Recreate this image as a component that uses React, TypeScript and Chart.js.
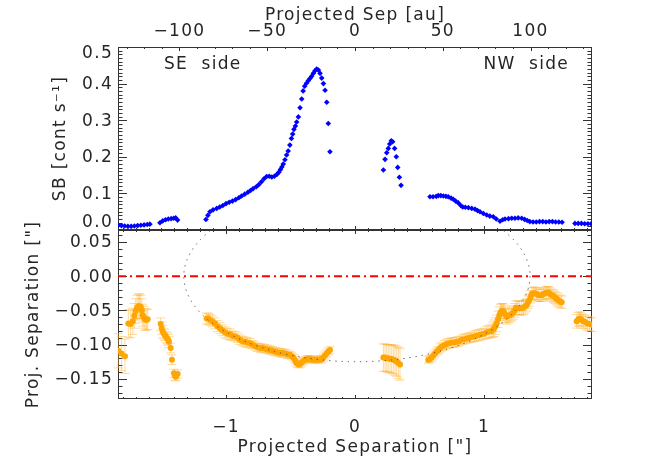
import React, { useEffect, useRef } from "react";
import { Chart, registerables } from "chart.js";

Chart.register(...registerables);

// ---------- data ----------
const X_MIN = -1.837;
const X_MAX = 1.837;
const AU_PER_ARCSEC = 73.5;
const ARCSEC_TICKS = [-1, 0, 1];
const AU_TICKS = [-100, -50, 0, 50, 100];
const SB_MIN = 0;
const SB_MAX = 0.5;
const SB_TICKS = [0, 0.1, 0.2, 0.3, 0.4, 0.5];
const SEP_MIN = -0.1795;
const SEP_MAX = 0.0675;
const SEP_TICKS = [-0.15, -0.1, -0.05, 0, 0.05];
const REFERENCE_LEVEL = 0;
const ELLIPSE_CENTER = [0.015, 0];
const ELLIPSE_SEMI_AXES = [1.342, 0.125];
const PANEL_LABELS = ["SE  side", "NW  side"];
const TITLES = {
  top: "Projected Sep [au]",
  bottom: 'Projected Separation ["]',
  sb: "SB [cont s\u207B\u00B9]",
  sep: 'Proj. Separation ["]',
};

// surface brightness profile [arcsec, cont/s]
const SB_POINTS: [number, number][] = [
  [-1.835, 0.013], [-1.81, 0.012], [-1.785, 0.011], [-1.76, 0.01], [-1.735, 0.01], [-1.71, 0.011],
  [-1.685, 0.012], [-1.66, 0.013], [-1.635, 0.014], [-1.61, 0.015], [-1.59, 0.016],
  [-1.512, 0.02], [-1.49, 0.025], [-1.468, 0.028], [-1.447, 0.03], [-1.425, 0.031], [-1.405, 0.032],
  [-1.39, 0.033], [-1.375, 0.027],
  [-1.155, 0.029], [-1.14, 0.04], [-1.124, 0.05], [-1.1, 0.055], [-1.072, 0.059], [-1.048, 0.063],
  [-1.024, 0.067], [-1.0, 0.072], [-0.975, 0.076], [-0.95, 0.079], [-0.925, 0.083], [-0.9, 0.088],
  [-0.879, 0.093], [-0.855, 0.098], [-0.83, 0.103], [-0.81, 0.108], [-0.79, 0.113], [-0.765, 0.118],
  [-0.745, 0.124], [-0.725, 0.132], [-0.705, 0.14], [-0.685, 0.146], [-0.665, 0.147], [-0.645, 0.145],
  [-0.625, 0.147], [-0.605, 0.152], [-0.59, 0.158], [-0.578, 0.165], [-0.567, 0.172], [-0.556, 0.18],
  [-0.543, 0.192], [-0.53, 0.205], [-0.518, 0.216], [-0.505, 0.232], [-0.493, 0.25], [-0.483, 0.262],
  [-0.473, 0.275], [-0.462, 0.284], [-0.452, 0.295], [-0.439, 0.309], [-0.426, 0.334], [-0.413, 0.358],
  [-0.402, 0.38], [-0.39, 0.393], [-0.376, 0.401], [-0.362, 0.408], [-0.349, 0.414], [-0.336, 0.42],
  [-0.323, 0.428], [-0.31, 0.435], [-0.297, 0.44], [-0.284, 0.437], [-0.271, 0.428], [-0.258, 0.415],
  [-0.245, 0.4], [-0.232, 0.382], [-0.219, 0.349], [-0.207, 0.291], [-0.194, 0.214],
  [0.22, 0.164], [0.233, 0.193], [0.246, 0.211], [0.258, 0.223], [0.269, 0.235], [0.281, 0.244],
  [0.292, 0.241], [0.307, 0.223], [0.32, 0.2], [0.331, 0.171], [0.344, 0.144], [0.357, 0.122],
  [0.581, 0.091], [0.605, 0.091], [0.63, 0.092], [0.646, 0.094], [0.665, 0.094], [0.685, 0.093],
  [0.705, 0.092], [0.723, 0.091], [0.745, 0.087], [0.762, 0.084], [0.78, 0.079], [0.801, 0.074],
  [0.82, 0.067], [0.835, 0.063], [0.855, 0.062], [0.879, 0.061], [0.905, 0.059], [0.93, 0.057],
  [0.95, 0.053], [0.969, 0.05], [0.995, 0.045], [1.021, 0.041], [1.045, 0.038], [1.072, 0.036],
  [1.095, 0.03], [1.124, 0.024], [1.145, 0.028], [1.163, 0.03], [1.19, 0.031], [1.215, 0.032],
  [1.24, 0.032], [1.265, 0.033], [1.292, 0.032], [1.315, 0.029], [1.335, 0.026], [1.355, 0.023],
  [1.38, 0.022], [1.405, 0.022], [1.43, 0.023], [1.455, 0.023], [1.48, 0.022], [1.505, 0.023],
  [1.53, 0.023], [1.555, 0.022], [1.58, 0.022], [1.605, 0.021],
  [1.705, 0.018], [1.73, 0.018], [1.755, 0.018], [1.78, 0.017], [1.805, 0.017], [1.83, 0.017],
];

// spine offset [arcsec, arcsec, error]
const SEP_POINTS: [number, number, number][] = [
  [-1.835, -0.109, 0.025], [-1.81, -0.113, 0.025], [-1.783, -0.117, 0.025], [-1.757, -0.069, 0.02],
  [-1.739, -0.07, 0.02], [-1.723, -0.066, 0.019], [-1.711, -0.058, 0.018], [-1.7, -0.051, 0.018],
  [-1.689, -0.046, 0.018], [-1.679, -0.044, 0.018], [-1.67, -0.044, 0.018], [-1.661, -0.045, 0.017],
  [-1.652, -0.05, 0.017], [-1.646, -0.057, 0.016], [-1.637, -0.06, 0.016], [-1.628, -0.063, 0.016],
  [-1.617, -0.064, 0.015], [-1.607, -0.063, 0.015],
  [-1.506, -0.07, 0.009], [-1.498, -0.076, 0.009], [-1.491, -0.081, 0.009], [-1.482, -0.084, 0.008],
  [-1.473, -0.086, 0.008], [-1.464, -0.089, 0.008], [-1.455, -0.091, 0.008], [-1.448, -0.093, 0.008],
  [-1.442, -0.096, 0.008], [-1.429, -0.105, 0.007], [-1.419, -0.122, 0.007], [-1.403, -0.142, 0.006],
  [-1.395, -0.146, 0.006], [-1.388, -0.147, 0.006], [-1.375, -0.143, 0.006],
  [-1.15, -0.062, 0.008], [-1.137, -0.062, 0.008], [-1.124, -0.064, 0.008], [-1.105, -0.066, 0.008],
  [-1.085, -0.069, 0.008], [-1.066, -0.073, 0.008], [-1.047, -0.076, 0.008], [-1.028, -0.079, 0.008],
  [-1.008, -0.082, 0.008], [-0.989, -0.084, 0.008], [-0.969, -0.085, 0.008], [-0.95, -0.087, 0.007],
  [-0.93, -0.088, 0.007], [-0.91, -0.09, 0.007], [-0.891, -0.093, 0.007], [-0.872, -0.095, 0.007],
  [-0.853, -0.096, 0.007], [-0.834, -0.097, 0.007], [-0.814, -0.098, 0.007], [-0.795, -0.1, 0.006],
  [-0.775, -0.102, 0.006], [-0.756, -0.104, 0.006], [-0.736, -0.105, 0.006], [-0.717, -0.105, 0.006],
  [-0.698, -0.106, 0.006], [-0.678, -0.107, 0.006], [-0.659, -0.108, 0.006], [-0.64, -0.109, 0.006],
  [-0.62, -0.11, 0.006], [-0.601, -0.111, 0.006], [-0.581, -0.112, 0.006], [-0.562, -0.112, 0.006],
  [-0.543, -0.113, 0.006], [-0.523, -0.114, 0.006], [-0.504, -0.115, 0.005], [-0.49, -0.117, 0.005],
  [-0.478, -0.119, 0.005], [-0.467, -0.122, 0.005], [-0.457, -0.126, 0.005], [-0.445, -0.128, 0.005],
  [-0.434, -0.129, 0.005], [-0.423, -0.128, 0.005], [-0.413, -0.126, 0.005], [-0.4, -0.124, 0.005],
  [-0.388, -0.122, 0.005], [-0.368, -0.121, 0.005], [-0.349, -0.121, 0.005], [-0.33, -0.122, 0.005],
  [-0.31, -0.122, 0.005], [-0.29, -0.122, 0.005], [-0.271, -0.122, 0.005], [-0.258, -0.121, 0.005],
  [-0.245, -0.119, 0.005], [-0.233, -0.116, 0.005], [-0.22, -0.113, 0.005], [-0.207, -0.11, 0.005],
  [-0.194, -0.108, 0.005],
  [0.22, -0.119, 0.02], [0.233, -0.119, 0.02], [0.246, -0.12, 0.02], [0.258, -0.12, 0.02],
  [0.271, -0.121, 0.02], [0.284, -0.121, 0.021], [0.297, -0.122, 0.021], [0.31, -0.123, 0.022],
  [0.323, -0.125, 0.022], [0.336, -0.127, 0.023], [0.349, -0.129, 0.023],
  [0.568, -0.122, 0.005], [0.581, -0.121, 0.005], [0.594, -0.119, 0.005], [0.607, -0.116, 0.005],
  [0.62, -0.113, 0.005], [0.633, -0.11, 0.005], [0.646, -0.108, 0.005], [0.659, -0.105, 0.006],
  [0.672, -0.103, 0.006], [0.691, -0.101, 0.007], [0.711, -0.099, 0.007], [0.73, -0.098, 0.007],
  [0.749, -0.097, 0.007], [0.768, -0.097, 0.007], [0.788, -0.096, 0.007], [0.807, -0.095, 0.007],
  [0.827, -0.093, 0.007], [0.846, -0.092, 0.007], [0.866, -0.091, 0.007], [0.885, -0.09, 0.007],
  [0.905, -0.089, 0.007], [0.924, -0.088, 0.008], [0.943, -0.087, 0.008], [0.963, -0.086, 0.008],
  [0.982, -0.085, 0.008], [1.001, -0.084, 0.008], [1.021, -0.082, 0.009], [1.04, -0.081, 0.009],
  [1.06, -0.08, 0.01], [1.07, -0.078, 0.011], [1.078, -0.076, 0.012], [1.088, -0.073, 0.012],
  [1.098, -0.069, 0.012], [1.108, -0.063, 0.012], [1.119, -0.057, 0.012], [1.128, -0.053, 0.012],
  [1.137, -0.051, 0.011], [1.146, -0.051, 0.011], [1.155, -0.053, 0.011], [1.165, -0.056, 0.011],
  [1.176, -0.059, 0.011], [1.189, -0.058, 0.01], [1.202, -0.057, 0.01], [1.215, -0.055, 0.01],
  [1.227, -0.053, 0.01], [1.238, -0.05, 0.01], [1.248, -0.046, 0.01], [1.261, -0.046, 0.01],
  [1.274, -0.047, 0.01], [1.29, -0.047, 0.01], [1.305, -0.046, 0.01], [1.318, -0.044, 0.01],
  [1.331, -0.042, 0.009], [1.341, -0.038, 0.009], [1.351, -0.035, 0.009], [1.361, -0.03, 0.009],
  [1.37, -0.026, 0.009], [1.383, -0.025, 0.009], [1.395, -0.025, 0.009], [1.408, -0.026, 0.009],
  [1.421, -0.028, 0.009], [1.434, -0.028, 0.009], [1.447, -0.028, 0.009], [1.46, -0.026, 0.009],
  [1.473, -0.025, 0.009], [1.486, -0.024, 0.009], [1.499, -0.024, 0.009], [1.512, -0.026, 0.009],
  [1.525, -0.028, 0.009], [1.538, -0.029, 0.009], [1.55, -0.031, 0.009], [1.563, -0.033, 0.009],
  [1.576, -0.035, 0.009], [1.589, -0.037, 0.009], [1.602, -0.038, 0.009],
  [1.718, -0.066, 0.01], [1.731, -0.063, 0.01], [1.744, -0.062, 0.01], [1.757, -0.064, 0.01],
  [1.77, -0.066, 0.01], [1.785, -0.067, 0.01], [1.801, -0.069, 0.01], [1.818, -0.07, 0.01],
  [1.835, -0.071, 0.01],
];

// ---------- layout & style ----------
const WIDTH = 658;
const HEIGHT = 470;
const PLOT_LEFT = 118;
const PLOT_RIGHT = 592;
const PLOT_TOP = 47;
const PANEL_SPLIT = 230;
const PLOT_BOTTOM = 399;
const FONT = { family: "DejaVu Sans", size: 17 };
const FONT_CSS = `${FONT.size}px "${FONT.family}"`;
const LETTER_SPACING = "1.3px";
const TEXT_COLOR = "#262626";
const AXIS_COLOR = "#333333";
const BLUE = "#0000ff";
const ORANGE = "#ffa500";
const ERR_COLOR = "rgba(255,170,30,0.45)";
const X_MAJOR_LEN = 4;
const X_MINOR_LEN = 2;
const Y_MAJOR_LEN = 9;
const Y_MINOR_LEN = 4.5;
const Y_LABEL_GAP = 5;
const Y_LABEL_HALF = 7;

const minus = (s: string) => s.replace("-", "\u2212");
const fmt = (v: number, d: number) => (Math.abs(v) < 1e-12 ? (0).toFixed(d) : minus(v.toFixed(d)));

const letterSpacingPlugin = {
  id: "letterSpacing",
  beforeDraw(chart: any) {
    chart.ctx.letterSpacing = LETTER_SPACING;
  },
};

function frameTicksPlugin(spec: { yMinor: number; yMajorEvery: number; topAu: boolean }) {
  return {
    id: "frameTicks",
    beforeDatasetsDraw(chart: any) {
      const { ctx, chartArea: a } = chart;
      const xs = chart.scales.x;
      const ys = chart.scales.y;
      ctx.save();
      ctx.strokeStyle = AXIS_COLOR;
      ctx.lineWidth = 1;
      ctx.beginPath();
      const xStep = 0.1;
      for (let i = Math.ceil(X_MIN / xStep - 1e-9); i <= Math.floor(X_MAX / xStep + 1e-9); i++) {
        const px = Math.round(xs.getPixelForValue(i * xStep)) + 0.5;
        const len = i % 10 === 0 ? X_MAJOR_LEN : X_MINOR_LEN;
        ctx.moveTo(px, a.bottom);
        ctx.lineTo(px, a.bottom - len);
        if (!spec.topAu) {
          ctx.moveTo(px, a.top);
          ctx.lineTo(px, a.top + len);
        }
      }
      if (spec.topAu) {
        const au = chart.scales.xAu;
        for (let i = Math.ceil(au.min / 10); i <= Math.floor(au.max / 10); i++) {
          const px = Math.round(au.getPixelForValue(i * 10)) + 0.5;
          const len = i % 5 === 0 ? X_MAJOR_LEN : X_MINOR_LEN;
          ctx.moveTo(px, a.top);
          ctx.lineTo(px, a.top + len);
        }
      }
      const n0 = Math.ceil(ys.min / spec.yMinor - 1e-6);
      const n1 = Math.floor(ys.max / spec.yMinor + 1e-6);
      for (let i = n0; i <= n1; i++) {
        const py = Math.round(ys.getPixelForValue(i * spec.yMinor)) + 0.5;
        const len = i % spec.yMajorEvery === 0 ? Y_MAJOR_LEN : Y_MINOR_LEN;
        ctx.moveTo(a.left, py);
        ctx.lineTo(a.left + len, py);
        ctx.moveTo(a.right, py);
        ctx.lineTo(a.right - len, py);
      }
      ctx.stroke();
      ctx.strokeRect(a.left + 0.5, a.top + 0.5, a.right - a.left - 1, a.bottom - a.top - 1);
      ctx.restore();
    },
  };
}

// y tick labels, kept inside the panel's vertical extent like the original plot
function yLabelPlugin(values: number[], decimals: number) {
  return {
    id: "yLabels",
    afterDraw(chart: any) {
      const { ctx, chartArea: a } = chart;
      const ys = chart.scales.y;
      ctx.save();
      ctx.font = FONT_CSS;
      ctx.fillStyle = TEXT_COLOR;
      ctx.textAlign = "right";
      ctx.textBaseline = "middle";
      for (const v of values) {
        let py = ys.getPixelForValue(v) + 1;
        py = Math.min(Math.max(py, a.top + Y_LABEL_HALF), a.bottom - Y_LABEL_HALF);
        ctx.fillText(fmt(v, decimals), a.left - Y_LABEL_GAP, py);
      }
      ctx.restore();
    },
  };
}

const panelLabelPlugin = {
  id: "panelLabels",
  afterDatasetsDraw(chart: any) {
    const { ctx, chartArea: a } = chart;
    ctx.save();
    ctx.font = FONT_CSS;
    ctx.fillStyle = TEXT_COLOR;
    ctx.textBaseline = "middle";
    ctx.textAlign = "left";
    ctx.fillText(PANEL_LABELS[0], a.left + 46, a.top + 18);
    ctx.textAlign = "right";
    ctx.fillText(PANEL_LABELS[1], a.right - 23, a.top + 18);
    ctx.restore();
  },
};

const errorBarPlugin = {
  id: "errorBars",
  beforeDatasetsDraw(chart: any) {
    const { ctx } = chart;
    const xs = chart.scales.x;
    const ys = chart.scales.y;
    ctx.save();
    ctx.strokeStyle = ERR_COLOR;
    ctx.lineWidth = 1;
    ctx.beginPath();
    for (const [x, y, e] of SEP_POINTS) {
      const px = xs.getPixelForValue(x);
      const y0 = ys.getPixelForValue(y - e);
      const y1 = ys.getPixelForValue(y + e);
      ctx.moveTo(px, y0);
      ctx.lineTo(px, y1);
      ctx.moveTo(px - 4.5, y0);
      ctx.lineTo(px + 4.5, y0);
      ctx.moveTo(px - 4.5, y1);
      ctx.lineTo(px + 4.5, y1);
    }
    ctx.stroke();
    ctx.restore();
  },
};

const ellipsePlugin = {
  id: "ellipse",
  afterDatasetsDraw(chart: any) {
    const { ctx, chartArea: a } = chart;
    const xs = chart.scales.x;
    const ys = chart.scales.y;
    const cx = xs.getPixelForValue(ELLIPSE_CENTER[0]);
    const cy = ys.getPixelForValue(ELLIPSE_CENTER[1]);
    const rx = Math.abs(xs.getPixelForValue(ELLIPSE_CENTER[0] + ELLIPSE_SEMI_AXES[0]) - cx);
    const ry = Math.abs(ys.getPixelForValue(ELLIPSE_CENTER[1] + ELLIPSE_SEMI_AXES[1]) - cy);
    ctx.save();
    ctx.beginPath();
    ctx.rect(a.left, a.top, a.right - a.left, a.bottom - a.top);
    ctx.clip();
    ctx.strokeStyle = "#444444";
    ctx.lineWidth = 1;
    ctx.setLineDash([1.2, 5]);
    ctx.beginPath();
    ctx.ellipse(cx, cy, rx, ry, 0, 0, Math.PI * 2);
    ctx.stroke();
    ctx.restore();
  },
};

const baseTicks = { font: FONT, color: TEXT_COLOR, autoSkip: false, maxRotation: 0 };

function topConfig(): any {
  return {
    type: "scatter",
    data: {
      datasets: [
        {
          data: SB_POINTS.map(([x, y]) => ({ x, y })),
          pointStyle: "rectRot",
          pointRadius: 2.8,
          backgroundColor: BLUE,
          borderWidth: 0,
          xAxisID: "x",
          yAxisID: "y",
        },
      ],
    },
    options: {
      responsive: false,
      animation: false,
      devicePixelRatio: 1,
      layout: { padding: { left: 0, top: 0, right: WIDTH - PLOT_RIGHT, bottom: HEIGHT - PANEL_SPLIT } },
      plugins: { legend: { display: false }, tooltip: { enabled: false } },
      scales: {
        x: { type: "linear", display: false, min: X_MIN, max: X_MAX },
        xAu: {
          type: "linear",
          position: "top",
          min: X_MIN * AU_PER_ARCSEC,
          max: X_MAX * AU_PER_ARCSEC,
          afterBuildTicks: (s: any) => {
            s.ticks = AU_TICKS.map((v) => ({ value: v }));
          },
          afterFit: (s: any) => {
            s.height = PLOT_TOP;
          },
          grid: { display: false, drawTicks: false },
          border: { display: false },
          ticks: { ...baseTicks, padding: 5, callback: (v: number) => fmt(v, 0) },
          title: { display: true, text: TITLES.top, font: FONT, color: TEXT_COLOR, padding: { top: 5, bottom: 0 } },
        },
        y: {
          type: "linear",
          position: "left",
          min: SB_MIN,
          max: SB_MAX,
          afterBuildTicks: (s: any) => {
            s.ticks = SB_TICKS.map((v) => ({ value: v }));
          },
          afterFit: (s: any) => {
            s.width = PLOT_LEFT;
          },
          grid: { display: false, drawTicks: false },
          border: { display: false },
          ticks: { ...baseTicks, display: false },
          title: { display: true, text: TITLES.sb, font: FONT, color: TEXT_COLOR, padding: { top: 50, bottom: 0 } },
        },
      },
    },
    plugins: [
      letterSpacingPlugin,
      frameTicksPlugin({ yMinor: 0.01, yMajorEvery: 10, topAu: true }),
      panelLabelPlugin,
      yLabelPlugin(SB_TICKS, 1),
    ],
  };
}

function bottomConfig(): any {
  return {
    type: "scatter",
    data: {
      datasets: [
        {
          data: SEP_POINTS.map(([x, y]) => ({ x, y })),
          pointStyle: "circle",
          pointRadius: 3,
          backgroundColor: ORANGE,
          borderWidth: 0,
        },
        {
          data: [
            { x: X_MIN, y: REFERENCE_LEVEL },
            { x: X_MAX, y: REFERENCE_LEVEL },
          ],
          showLine: true,
          pointRadius: 0,
          borderColor: "#ff0000",
          borderWidth: 2,
          borderDash: [8, 4, 2, 4],
          fill: false,
        },
      ],
    },
    options: {
      responsive: false,
      animation: false,
      devicePixelRatio: 1,
      layout: { padding: { left: 0, top: PANEL_SPLIT, right: WIDTH - PLOT_RIGHT, bottom: 0 } },
      plugins: { legend: { display: false }, tooltip: { enabled: false } },
      scales: {
        x: {
          type: "linear",
          position: "bottom",
          min: X_MIN,
          max: X_MAX,
          afterBuildTicks: (s: any) => {
            s.ticks = ARCSEC_TICKS.map((v) => ({ value: v }));
          },
          afterFit: (s: any) => {
            s.height = HEIGHT - PLOT_BOTTOM;
          },
          grid: { display: false, drawTicks: false },
          border: { display: false },
          ticks: { ...baseTicks, padding: 18, callback: (v: number) => fmt(v, 0) },
          title: { display: true, text: TITLES.bottom, font: FONT, color: TEXT_COLOR, padding: { top: 0, bottom: 12 } },
        },
        y: {
          type: "linear",
          position: "left",
          min: SEP_MIN,
          max: SEP_MAX,
          afterBuildTicks: (s: any) => {
            s.ticks = SEP_TICKS.map((v) => ({ value: v }));
          },
          afterFit: (s: any) => {
            s.width = PLOT_LEFT;
          },
          grid: { display: false, drawTicks: false },
          border: { display: false },
          ticks: { ...baseTicks, display: false },
          title: { display: true, text: TITLES.sep, font: FONT, color: TEXT_COLOR, padding: { top: 23, bottom: 0 } },
        },
      },
    },
    plugins: [
      letterSpacingPlugin,
      frameTicksPlugin({ yMinor: 0.01, yMajorEvery: 5, topAu: false }),
      errorBarPlugin,
      ellipsePlugin,
      yLabelPlugin(SEP_TICKS, 2),
    ],
  };
}

export default function App() {
  const topRef = useRef<HTMLCanvasElement>(null);
  const bottomRef = useRef<HTMLCanvasElement>(null);

  useEffect(() => {
    const top = new Chart(topRef.current as HTMLCanvasElement, topConfig());
    const bottom = new Chart(bottomRef.current as HTMLCanvasElement, bottomConfig());
    return () => {
      top.destroy();
      bottom.destroy();
    };
  }, []);

  const canvasStyle: React.CSSProperties = { position: "absolute", left: 0, top: 0, width: WIDTH, height: HEIGHT };
  return (
    <div style={{ position: "fixed", left: 0, top: 0, width: WIDTH, height: HEIGHT, background: "#ffffff" }}>
      <canvas ref={topRef} width={WIDTH} height={HEIGHT} style={canvasStyle} />
      <canvas ref={bottomRef} width={WIDTH} height={HEIGHT} style={canvasStyle} />
    </div>
  );
}
